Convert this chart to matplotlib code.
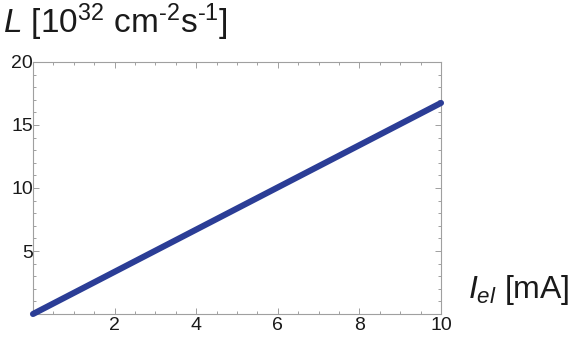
import matplotlib
matplotlib.use("Agg")
import matplotlib.pyplot as plt
from matplotlib.ticker import MultipleLocator

plt.rcParams['font.family'] = ['Liberation Sans', 'DejaVu Sans']
plt.rcParams['mathtext.fontset'] = 'custom'
plt.rcParams['mathtext.rm'] = 'Liberation Sans'
plt.rcParams['mathtext.it'] = 'Liberation Sans:italic'
plt.rcParams['mathtext.bf'] = 'Liberation Sans:bold'

current_mA = [0, 10]
luminosity = [0, 16.75]
x_ticks = [2, 4, 6, 8, 10]
y_ticks = [5, 10, 15, 20]

fig = plt.figure(figsize=(5.81, 3.38), dpi=100)
W, H = 581, 338
left, right, top, bottom = 33, 441, 62, 314
ax = fig.add_axes([left / W, 1 - bottom / H, (right - left) / W, (bottom - top) / H])

ax.plot(current_mA, luminosity, color='#2b3d96', lw=4.4, solid_capstyle='round', clip_on=False, zorder=5)
ax.set_xlim(0, 10)
ax.set_ylim(0, 20)
ax.set_xticks(x_ticks)
ax.set_yticks(y_ticks)
ax.xaxis.set_minor_locator(MultipleLocator(0.5))
ax.yaxis.set_minor_locator(MultipleLocator(1))

for s in ax.spines.values():
    s.set_color('#a0a0a0')
    s.set_linewidth(0.8)

ax.tick_params(which='both', direction='in', colors='#a0a0a0', labelcolor='#1a1a1a',
               top=True, right=True, labelsize=14, width=0.7)
ax.tick_params(which='major', length=4, pad=2)
ax.tick_params(which='minor', length=2)
ax.tick_params(axis='y', pad=0)

fig.text(3 / W, 1 - 33 / H, r'$L$ [10$^{32}$ cm$^{\text{-}2}$s$^{\text{-}1}$]', fontsize=24,
         ha='left', va='baseline', color='#1a1a1a')
fig.text(468 / W, 1 - 298 / H, r'$I_{el}$ [mA]', fontsize=23,
         ha='left', va='baseline', color='#1a1a1a')

fig.savefig('out.png', dpi=100)
